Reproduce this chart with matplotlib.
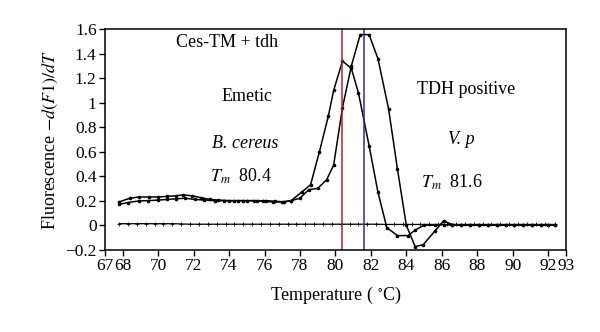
import matplotlib
matplotlib.use("Agg")
import matplotlib.pyplot as plt

plt.rcParams["font.family"] = ["Liberation Serif", "DejaVu Serif"]
plt.rcParams["mathtext.fontset"] = "stix"

# B. cereus (emetic), Tm 80.4
temp_bc = [67.8, 68.3, 68.9, 69.4, 70.0, 70.5, 71.0, 71.5, 72.1, 72.6, 73.2, 73.7,
           74.3, 74.8, 75.4, 75.9, 76.5, 77.0, 77.5, 78.1, 78.6, 79.1, 79.6, 79.9,
           80.4, 80.9, 81.3, 81.9, 82.4, 82.9, 83.5, 84.1, 84.5, 85.0, 85.6, 86.1,
           86.6, 87.1, 87.6, 88.1, 88.6, 89.1, 89.6, 90.1, 90.6, 91.1, 91.6, 92.0, 92.4]
flu_bc = [0.17, 0.185, 0.198, 0.20, 0.205, 0.21, 0.215, 0.22, 0.21, 0.205, 0.20, 0.20,
          0.20, 0.20, 0.20, 0.195, 0.19, 0.19, 0.20, 0.27, 0.33, 0.60, 0.89, 1.10,
          1.34, 1.28, 1.08, 0.65, 0.27, -0.02, -0.085, -0.085, -0.04, 0.0, 0.0, 0.005,
          0.0, 0.0, 0.0, 0.0, 0.0, 0.0, 0.0, 0.0, 0.0, 0.0, 0.0, 0.0, 0.0]

# V. parahaemolyticus (TDH positive), Tm 81.6
temp_vp = [67.8, 68.4, 68.9, 69.5, 70.0, 70.5, 71.0, 71.4, 71.9, 72.4, 72.9, 73.4,
           74.0, 74.5, 75.0, 75.6, 76.1, 76.6, 77.1, 77.5, 78.0, 78.5, 79.0, 79.5,
           79.9, 80.4, 80.9, 81.4, 81.9, 82.4, 83.0, 83.5, 84.0, 84.5, 84.95, 85.6,
           86.1, 86.6, 87.1, 87.6, 88.1, 88.6, 89.1, 89.6, 90.1, 90.6, 91.1, 91.6, 92.0, 92.4]
flu_vp = [0.19, 0.22, 0.23, 0.23, 0.23, 0.235, 0.24, 0.247, 0.24, 0.225, 0.21, 0.205,
          0.20, 0.20, 0.20, 0.20, 0.20, 0.195, 0.19, 0.20, 0.22, 0.29, 0.30, 0.37,
          0.49, 0.96, 1.30, 1.556, 1.556, 1.36, 0.95, 0.46, 0.0, -0.175, -0.16, -0.05,
          0.035, 0.005, 0.0, 0.0, 0.0, 0.0, 0.0, 0.0, 0.0, 0.0, 0.0, 0.0, 0.0, 0.0]

# negative control
temp_nc = [67.8, 68.3, 68.8, 69.3, 69.8, 70.3, 70.8, 71.3, 71.8, 72.3, 72.8, 73.3,
           73.8, 74.3, 74.8, 75.3, 75.8, 76.3, 76.8, 77.3, 77.8, 78.3, 78.8, 79.3,
           79.8, 80.3, 80.8, 81.3, 81.8, 82.3, 82.8, 83.3, 83.8, 84.3, 84.8, 85.3,
           85.8, 86.3, 86.8, 87.3, 87.8, 88.3, 88.8, 89.3, 89.8, 90.3, 90.8, 91.3, 91.8, 92.4]
flu_nc = [0.012, 0.012, 0.012, 0.012, 0.012, 0.012, 0.012, 0.01, 0.008, 0.008, 0.008, 0.008,
          0.008, 0.008, 0.008, 0.008, 0.008, 0.008, 0.008, 0.008, 0.008, 0.008, 0.008, 0.008,
          0.008, 0.008, 0.008, 0.008, 0.008, 0.008, 0.006, 0.006, 0.006, 0.006, 0.006, 0.006,
          0.006, 0.006, 0.006, 0.006, 0.006, 0.006, 0.006, 0.006, 0.006, 0.006, 0.006, 0.006, 0.006, 0.006]

tm_bc = 80.4
tm_vp = 81.6

xticks = [67, 68, 70, 72, 74, 76, 78, 80, 82, 84, 86, 88, 90, 92, 93]
yticks = [-0.2, 0, 0.2, 0.4, 0.6, 0.8, 1.0, 1.2, 1.4, 1.6]
ytick_labels = ["\u22120.2", "0", "0.2", "0.4", "0.6", "0.8", "1", "1.2", "1.4", "1.6"]

fig = plt.figure(figsize=(6.0, 3.32), dpi=100)
ax = fig.add_axes([0.175, 0.248, 0.768, 0.664])

ax.plot(temp_nc, flu_nc, color="black", lw=0.9, marker="+", ms=2.5, mew=0.6)
ax.plot(temp_bc, flu_bc, color="black", lw=1.1, marker="o", ms=1.6)
ax.plot(temp_vp, flu_vp, color="black", lw=1.1, marker="o", ms=1.6)

ax.axvline(tm_bc, color="#B0242C", lw=1.1)
ax.axvline(tm_vp, color="#2A2AA8", lw=1.1)

ax.set_xlim(67, 93)
ax.set_ylim(-0.2, 1.6)
ax.set_xticks(xticks)
ax.set_xticklabels([str(t) for t in xticks])
ax.set_yticks(yticks)
ax.set_yticklabels(ytick_labels)
ax.tick_params(labelsize=12.5, length=4, width=1, direction="out", pad=2)
for s in ax.spines.values():
    s.set_linewidth(1.1)

ax.set_xlabel("Temperature ( $^{\\circ}$C)", fontsize=13, labelpad=8)
ax.set_ylabel("Fluorescence $-d(F1)/dT$", fontsize=13, labelpad=4)

kw = dict(ha="center", va="center", fontsize=13)
ax.text(73.9, 1.49, "Ces-TM + tdh", **kw)
ax.text(75.0, 1.05, "Emetic", **kw)
ax.text(74.9, 0.67, "B. cereus", style="italic", **kw)
ax.text(74.7, 0.40, "$T_m$  80.4", **kw)
ax.text(87.4, 1.11, "TDH positive", **kw)
ax.text(87.1, 0.70, "V. p", style="italic", **kw)
ax.text(86.6, 0.35, "$T_m$  81.6", **kw)

fig.savefig("out.png", dpi=100)
